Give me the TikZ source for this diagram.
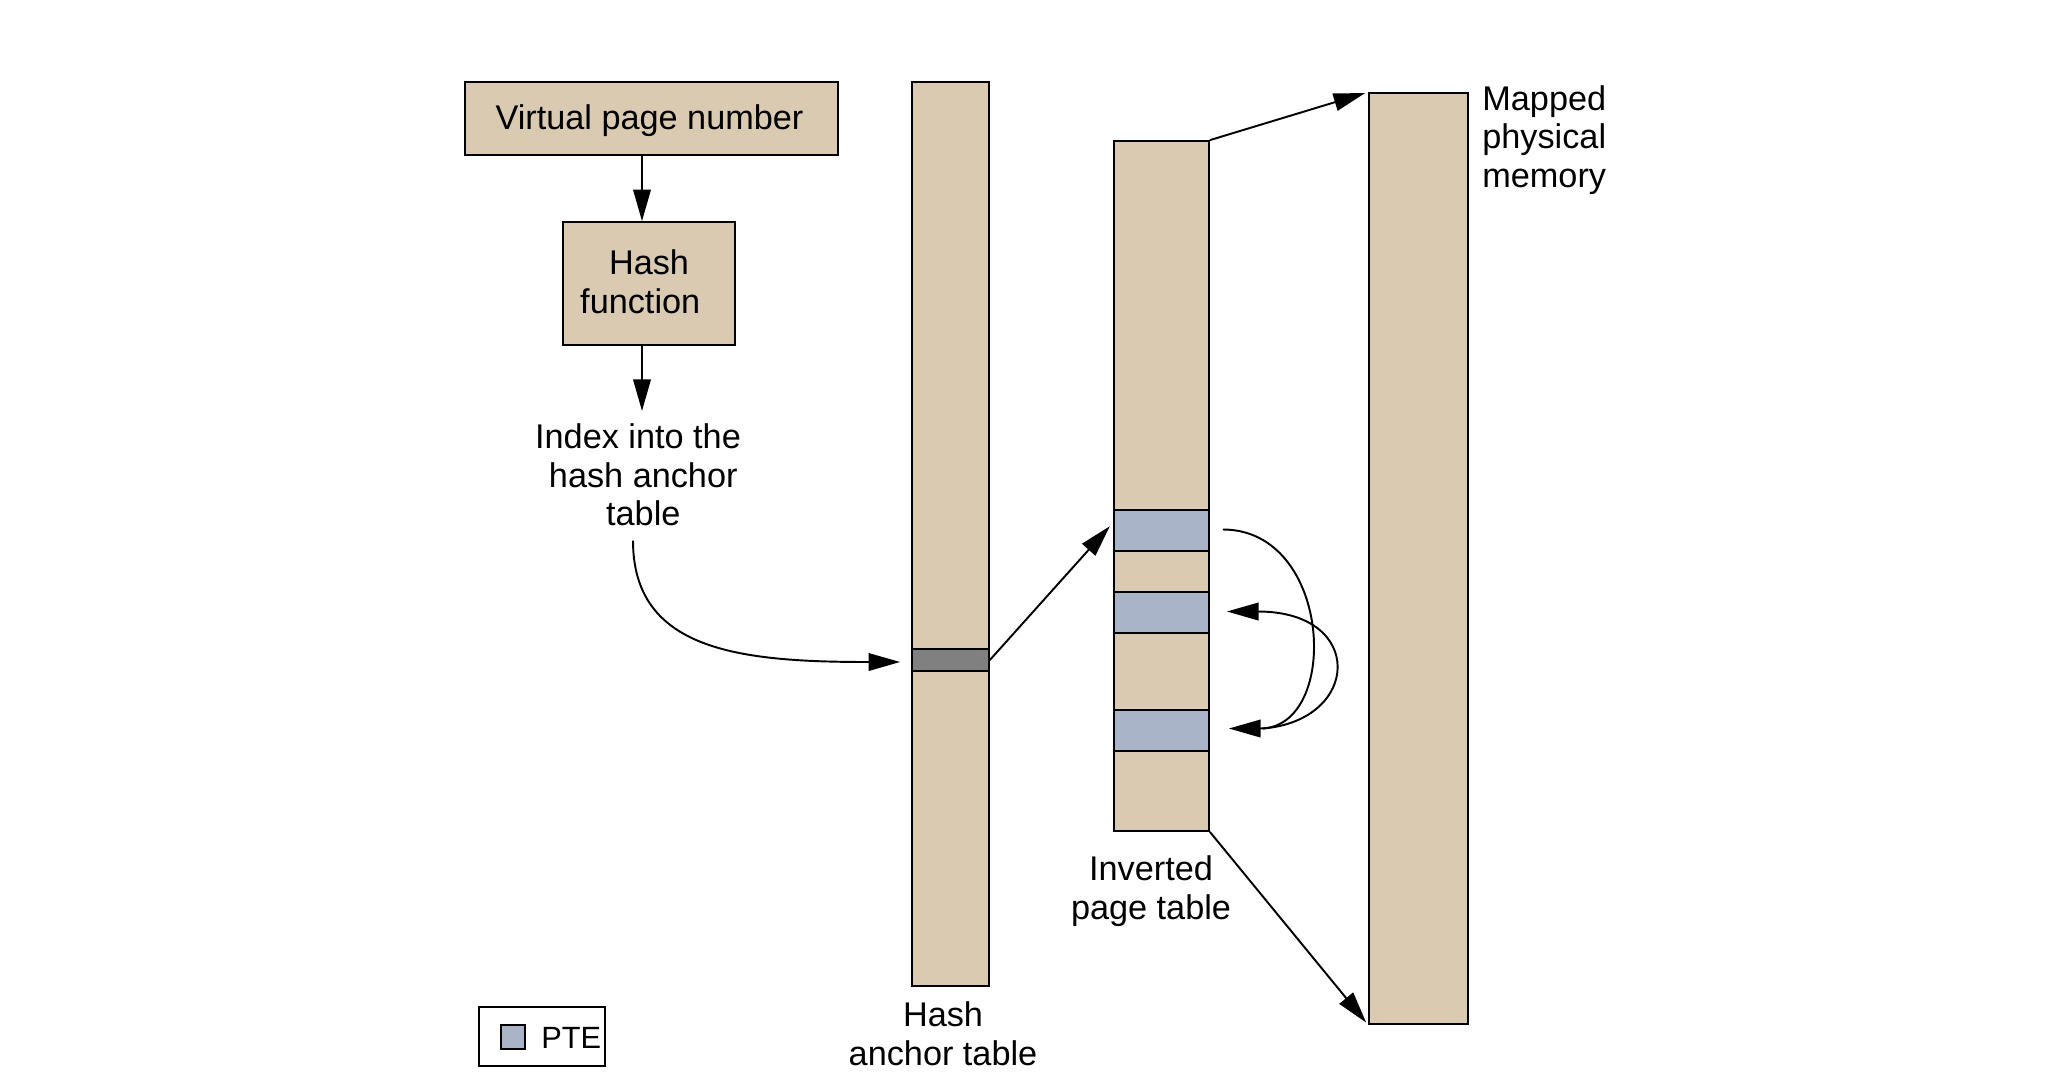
\documentclass[tikz,border=0pt]{standalone}
\usepackage{fontspec}
\setmainfont{Liberation Sans}
\usetikzlibrary{arrows.meta,fit,calc}
\definecolor{tan}{HTML}{D9CAB1}
\definecolor{pteblue}{HTML}{A9B4C9}
\definecolor{darkent}{HTML}{808080}
\tikzset{
  box/.style={draw=black, line width=1pt, fill=tan, inner sep=0pt},
  ptebox/.style={draw=black, line width=1pt, fill=pteblue, inner sep=0pt},
  txt/.style={font=\fontsize{19.5}{22}\selectfont, align=center, inner sep=0pt},
  arr/.style={line width=1.1pt, -{Triangle[length=18pt,width=10pt]}},
  conn/.style={line width=1.1pt}
}
\begin{document}
\begin{tikzpicture}[x=0.02cm, y=-0.02cm]
\useasboundingbox (0,0) rectangle (2048,1082);
% left boxes
\node[box, fit={(465,82) (838,155)}] (vpn) {};
\node[txt] (vpnt) at ($(vpn.center)+(-2,2)$) {Virtual page number};
\node[box, fit={(563,222) (735,345)}] (hash) {};
\node[txt] (hasht) at ($(hash.center)+(0,-2)$) {Hash\\function\hspace*{10pt}};
\node[txt] (idx) at (638,475) {Index into the\\\hspace*{6pt}hash anchor\\\hspace*{6pt}table};
\coordinate (ax) at (642,0);
\draw[arr] (vpn.south -| ax) -- (hash.north -| ax);
\draw[arr] (hash.south -| ax) -- (642,411);
% hash anchor table
\node[box, fit={(912,82) (989,986)}] (hat) {};
\node[draw=black, line width=1pt, fill=darkent, inner sep=0pt, fit={(912,649) (989,671)}] (hent) {};
\node[txt] (hatl) at (943,1034) {Hash\\anchor table};
% inverted page table
\node[box, fit={(1114,141) (1209,831)}] (ipt) {};
\node[ptebox, fit={(1114,510) (1209,551)}] (pte1) {};
\node[ptebox, fit={(1114,592) (1209,633)}] (pte2) {};
\node[ptebox, fit={(1114,710) (1209,751)}] (pte3) {};
\node[txt] (iptl) at (1151,891) {Inverted\\page table};
% physical memory
\node[box, fit={(1369,93) (1468,1024)}] (phys) {};
\node[txt, align=left, anchor=north west] (physl) at (1482,85) {Mapped\\physical\\memory};
% connectors
\coordinate (i0) at ($(idx.south)+(-5,14)$);
\coordinate (i1) at ($(hent.west)+(-11,2)$);
\draw[arr] (i0) .. controls +(0,110) and +(-161,0) .. (i1);
\draw[arr, shorten >=0.1cm] (hent.east) -- ($(pte1.west)+(0,-8)$);
\draw[arr, shorten >=0.06cm] (ipt.north east) -- (phys.north west);
\draw[arr, shorten >=0.06cm] (ipt.south east) -- (phys.south west);
\coordinate (c1s) at ($(pte1.east)+(13,-1)$);
\coordinate (c1e) at ($(pte3.east)+(19,-2)$);
\coordinate (c2s) at ($(pte3.east)+(53,-2)$);
\coordinate (c2e) at ($(pte2.east)+(17,-1)$);
\draw[arr] (c1s) .. controls +(110,0) and +(112,0) .. (c1e);
\draw[arr] (c2s) .. controls +(98,-8) and +(139,0) .. (c2e);
% legend
\node[draw=black, line width=1pt, fill=white, inner sep=0pt, fit={(479,1007) (605,1066)}] (leg) {};
\node[ptebox, fit={(501,1025) (525,1049)}] (legsq) {};
\node[txt, anchor=west, font=\fontsize{17.5}{20}\selectfont] (legt) at (541,1038) {PTE};
\end{tikzpicture}
\end{document}
